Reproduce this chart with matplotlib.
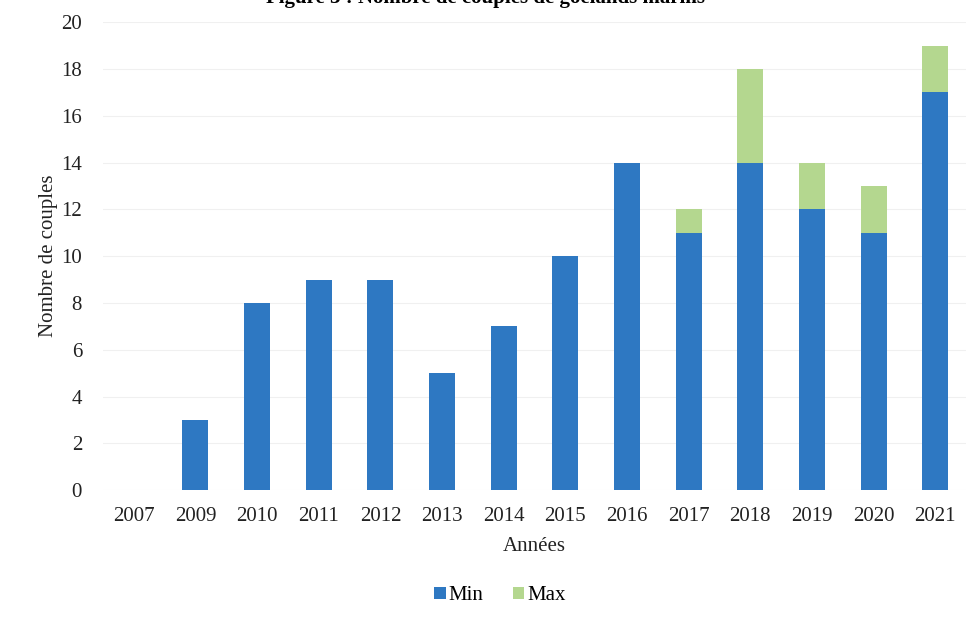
import numpy as np
import matplotlib.pyplot as plt

plt.rcParams['font.family'] = ['Liberation Serif', 'DejaVu Serif']

years = ["2007", "2009", "2010", "2011", "2012", "2013", "2014",
         "2015", "2016", "2017", "2018", "2019", "2020", "2021"]
min_vals = [0, 3, 8, 9, 9, 5, 7, 10, 14, 11, 14, 12, 11, 17]
max_extra = [0, 0, 0, 0, 0, 0, 0, 0, 0, 1, 4, 2, 2, 2]

blue = "#2E78C2"
green = "#B4D78F"

fig = plt.figure(figsize=(9.71, 6.18), dpi=100)
ax = fig.add_axes([0.106, 0.207, 0.889, 0.757])

x = np.arange(len(years))
ax.bar(x, min_vals, width=0.42, color=blue, label="Min", zorder=3)
ax.bar(x, max_extra, width=0.42, bottom=min_vals, color=green, label="Max", zorder=3)

ax.set_xlim(-0.5, len(years) - 0.5)
ax.set_ylim(0, 20)
ax.set_yticks(range(0, 21, 2))
ax.set_xticks(x)
ax.set_xticklabels(years)
ax.tick_params(axis="both", length=0, labelsize=15, colors="#222222")
ax.tick_params(axis="y", pad=15)
ax.tick_params(axis="x", pad=12)
ax.grid(axis="y", color="#f0f0f0", linewidth=0.8, zorder=0)
for s in ax.spines.values():
    s.set_visible(False)

ax.set_xlabel("Années", fontsize=15, color="#222222", labelpad=8)
ax.set_ylabel("Nombre de couples", fontsize=15, color="#222222", labelpad=2)

fig.legend(*ax.get_legend_handles_labels(), loc="center",
           bbox_to_anchor=(500 / 971, 1 - 596 / 618), ncol=2, frameon=False,
           fontsize=15, handlelength=0.55, handleheight=0.55, columnspacing=1.4,
           handletextpad=0.15)

fig.text(0.5, 1 - 3 / 618, "Figure 3 : Nombre de couples de goélands marins",
         ha="center", va="baseline", fontsize=15, fontweight="bold")

fig.savefig("out.png", dpi=100)
